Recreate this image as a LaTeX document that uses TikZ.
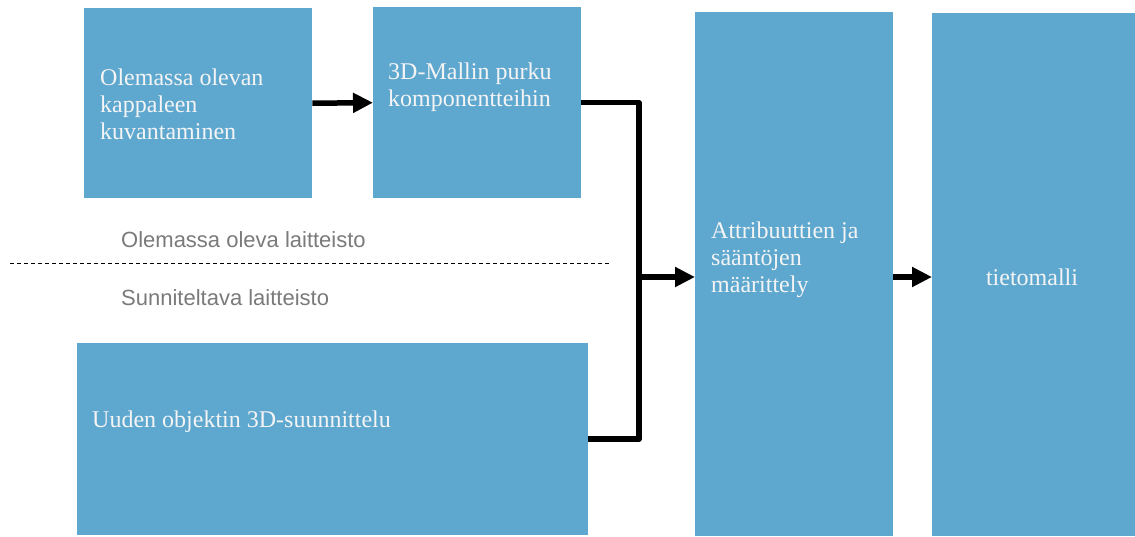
\documentclass[tikz,border=0pt]{standalone}
\usepackage{fontspec}
\setmainfont{Liberation Serif}
\newfontfamily\labelfont{Liberation Sans}
\usetikzlibrary{arrows.meta}
\definecolor{boxblue}{HTML}{5EA8CF}
\definecolor{boxtext}{HTML}{F4F4F4}
\definecolor{sidegray}{HTML}{7A7A7A}
\tikzset{
  blockbox/.style={fill=boxblue, draw=none, rectangle, inner sep=0pt, anchor=north west},
  blocktext/.style={text=boxtext, font=\fontsize{24}{27}\selectfont, align=left, inner sep=0pt},
  sidelabel/.style={text=sidegray, font=\labelfont\fontsize{22}{24}\selectfont, anchor=west, inner sep=0pt},
  flow/.style={line width=5.5pt, line join=round},
  flowarrow/.style={flow, -{Triangle[length=20pt,width=19pt]}}
}
\begin{document}
\begin{tikzpicture}[x=1pt, y=-1pt]
\useasboundingbox (0,0) rectangle (1135,536);

% process blocks
\node[blockbox, minimum width=228pt, minimum height=190pt] (b1) at (84,8) {};
\node[blockbox, minimum width=208pt, minimum height=191pt] (b2) at (373,7) {};
\node[blockbox, minimum width=511pt, minimum height=192pt] (b3) at (77,343) {};
\node[blockbox, minimum width=198pt, minimum height=524pt] (b4) at (695,12) {};
\node[blockbox, minimum width=203pt, minimum height=523pt] (b5) at (932,13) {};

% block captions
\node[blocktext, anchor=west] (t1) at (100,104) {Olemassa olevan\\kappaleen\\kuvantaminen};
\node[blocktext, anchor=west] (t2) at (388,87) {3D-Mallin purku\\komponentteihin};
\node[blocktext, anchor=west] (t3) at (92,422) {Uuden objektin 3D-suunnittelu};
\node[blocktext, anchor=west] (t4) at (711,260) {Attribuuttien ja\\sääntöjen\\määrittely};
\node[blocktext] (t5) at (1032,277) {tietomalli};

% divider between existing and designed equipment
\coordinate (dl) at (10,263);
\coordinate (dr) at (610,263);
\draw[black, line width=0.9pt, dash pattern=on 4pt off 3pt] (dl) -- (dr);
\node[sidelabel] (s1) at (121,240) {Olemassa oleva laitteisto};
\node[sidelabel] (s2) at (121,298) {Sunniteltava laitteisto};

% connectors
\coordinate (j) at (639,277);
\draw[flowarrow] (b1.east) -- (b2.west);
\draw[flow] (b2.east) -| (j);
\draw[flow] (b3.east) -| (j);
\draw[flowarrow] (j) -- (j -| b4.west);
\draw[flowarrow] (j -| b4.east) -- (j -| b5.west);
\end{tikzpicture}
\end{document}
